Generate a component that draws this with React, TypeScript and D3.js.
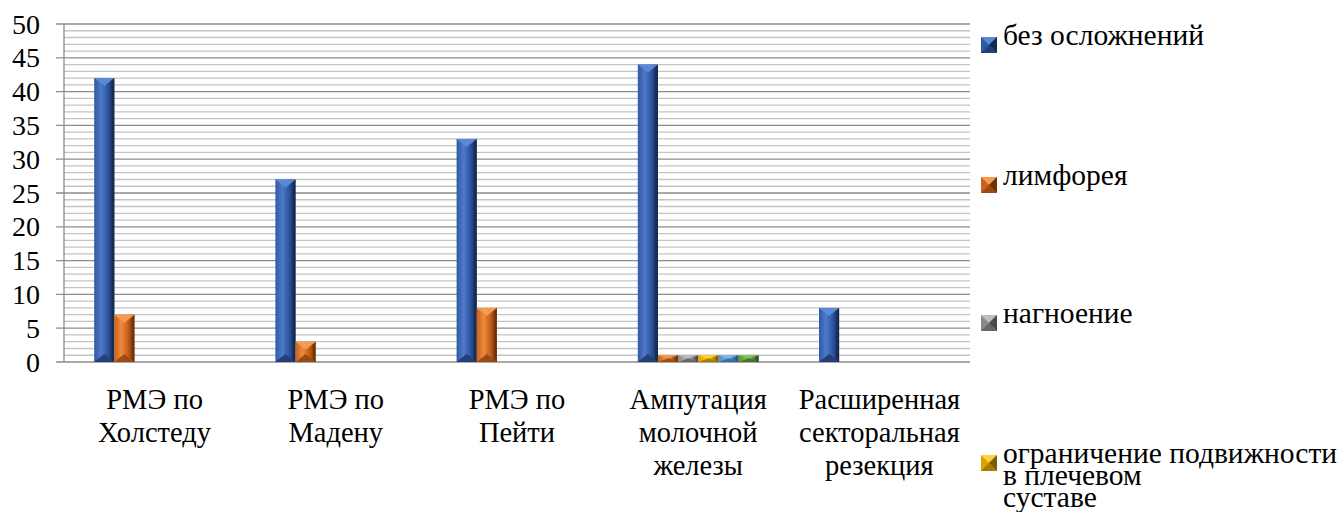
import React from "react";
import * as d3 from "d3";

const categories = [
  "РМЭ по Холстеду",
  "РМЭ по Мадену",
  "РМЭ по Пейти",
  "Ампутация молочной железы",
  "Расширенная секторальная резекция",
];
const categoryLines = [
  ["РМЭ по", "Холстеду"],
  ["РМЭ по", "Мадену"],
  ["РМЭ по", "Пейти"],
  ["Ампутация", "молочной", "железы"],
  ["Расширенная", "секторальная", "резекция"],
];

const seriesNames = [
  "без осложнений",
  "лимфорея",
  "нагноение",
  "ограничение подвижности в плечевом суставе",
  "серия 5",
  "серия 6",
];
const bezOslozhneniy = [42, 27, 33, 44, 8];
const limforeya = [7, 3, 8, 1, 0];
const nagnoenie = [0, 0, 0, 1, 0];
const ogranichenie = [0, 0, 0, 1, 0];
const series5 = [0, 0, 0, 1, 0];
const series6 = [0, 0, 0, 1, 0];
const seriesValues = [bezOslozhneniy, limforeya, nagnoenie, ogranichenie, series5, series6];

const legendItems = [
  ["без осложнений"],
  ["лимфорея"],
  ["нагноение"],
  ["ограничение подвижности", "в плечевом", "суставе"],
];

const yTicks = [0, 5, 10, 15, 20, 25, 30, 35, 40, 45, 50];

const palette = [
  { base: "#2F58A6", light: "#4F7AC8", dark: "#16294F", top: "#5C88D8", bottom: "#243F78" },
  { base: "#C9621C", light: "#EE8A3E", dark: "#6E3208", top: "#F59A50", bottom: "#9C4A12" },
  { base: "#8A8A8A", light: "#ABABAB", dark: "#4A4A4A", top: "#BDBDBD", bottom: "#666666" },
  { base: "#D9A400", light: "#FFC20E", dark: "#7A5C00", top: "#FFD040", bottom: "#A67D00" },
  { base: "#4A8BC8", light: "#6FA8DC", dark: "#24517C", top: "#86B8E4", bottom: "#3A6E9E" },
  { base: "#5B9737", light: "#77B24F", dark: "#2F5419", top: "#8CC266", bottom: "#447328" },
];

const W = 1337;
const H = 512;
const plotLeft = 64;
const plotRight = 970;
const plotTop = 24;
const plotBottom = 362;
const textStyle: React.CSSProperties = { fontFamily: "Liberation Serif" };

export default function App() {
  const x = d3.scaleBand<string>().domain(categories).range([plotLeft, plotRight]).padding(0);
  const xs = d3
    .scaleBand<number>()
    .domain(d3.range(seriesNames.length))
    .range([0, x.bandwidth()])
    .paddingInner(0)
    .paddingOuter(1.5);
  const y = d3.scaleLinear().domain([0, 50]).range([plotBottom, plotTop]);
  const allTicks = d3.range(0, 51, 1);

  const bars: React.ReactNode[] = [];
  seriesValues.forEach((vals, si) => {
    vals.forEach((v, ci) => {
      if (!v) return;
      const x0 = (x(categories[ci]) as number) + (xs(si) as number);
      const w = xs.bandwidth();
      const x1 = x0 + w;
      const yt = y(v);
      const yb = y(0);
      const h = yb - yt;
      const d = Math.min(8, h / 2);
      const xc = x0 + w / 2;
      bars.push(
        <g key={`b-${si}-${ci}`}>
          <rect x={x0} y={yt} width={w} height={h} fill={`url(#grad${si})`} />
          <polygon points={`${x0},${yt} ${x1},${yt} ${xc},${yt + d}`} fill={palette[si].top} />
          <polygon points={`${x0},${yb} ${x1},${yb} ${xc},${yb - d}`} fill={palette[si].bottom} />
          <polygon
            points={`${x1},${yt} ${x1},${yb} ${x1 - 3},${yb - Math.min(3, d)} ${x1 - 3},${yt + Math.min(3, d)}`}
            fill={palette[si].dark}
            opacity={0.7}
          />
        </g>
      );
    });
  });

  const legendBaselines = [45, 185, 323, 463];

  return (
    <svg
      width={W}
      height={H}
      fontFamily="Liberation Serif"
      style={{ position: "absolute", left: 0, top: 0, background: "#fff" }}
    >
      <defs>
        {palette.map((p, i) => (
          <linearGradient key={i} id={`grad${i}`} x1="0" x2="1" y1="0" y2="0">
            <stop offset="0%" stopColor={p.base} />
            <stop offset="35%" stopColor={p.light} />
            <stop offset="65%" stopColor={p.base} />
            <stop offset="100%" stopColor={p.dark} />
          </linearGradient>
        ))}
      </defs>

      {allTicks
        .filter((t) => t % 5 !== 0)
        .map((t) => (
          <line
            key={`mn${t}`}
            x1={plotLeft}
            x2={plotRight}
            y1={y(t)}
            y2={y(t)}
            stroke="#C4C4C4"
            strokeWidth={1.3}
          />
        ))}
      {yTicks.map((t) => (
        <line
          key={`mj${t}`}
          x1={plotLeft - 8}
          x2={plotRight}
          y1={y(t)}
          y2={y(t)}
          stroke="#8C8C8C"
          strokeWidth={1.3}
        />
      ))}
      <line x1={plotLeft} x2={plotLeft} y1={plotTop} y2={plotBottom} stroke="#8C8C8C" strokeWidth={1.3} />

      {yTicks.map((t) => (
        <text key={`yt${t}`} x={40} y={y(t)} dy="0.34em" textAnchor="end" fontSize={28} fill="#000" style={textStyle}>
          {t}
        </text>
      ))}

      {bars}

      {categoryLines.map((lines, ci) => {
        const cx = (x(categories[ci]) as number) + x.bandwidth() / 2;
        return (
          <text key={`cat${ci}`} textAnchor="middle" fontSize={28.5} fill="#000" style={textStyle}>
            {lines.map((ln, li) => (
              <tspan key={li} x={cx} y={409 + li * 33}>
                {ln}
              </tspan>
            ))}
          </text>
        );
      })}

      {legendItems.map((lines, i) => {
        const b = legendBaselines[i];
        const mx = 981;
        const my = b - 8;
        const s = 16;
        const p = palette[i];
        return (
          <g key={`lg${i}`}>
            <rect x={mx} y={my} width={s} height={s} fill={p.base} />
            <polygon points={`${mx},${my} ${mx + s},${my} ${mx + s / 2},${my + s / 2}`} fill={p.top} />
            <polygon points={`${mx + s},${my} ${mx + s},${my + s} ${mx + s / 2},${my + s / 2}`} fill={p.dark} />
            <polygon points={`${mx},${my + s} ${mx + s},${my + s} ${mx + s / 2},${my + s / 2}`} fill={p.bottom} />
            <text fontSize={29.5} fill="#000" style={textStyle}>
              {lines.map((ln, li) => (
                <tspan key={li} x={1003} y={b + li * 22}>
                  {ln}
                </tspan>
              ))}
            </text>
          </g>
        );
      })}
    </svg>
  );
}
